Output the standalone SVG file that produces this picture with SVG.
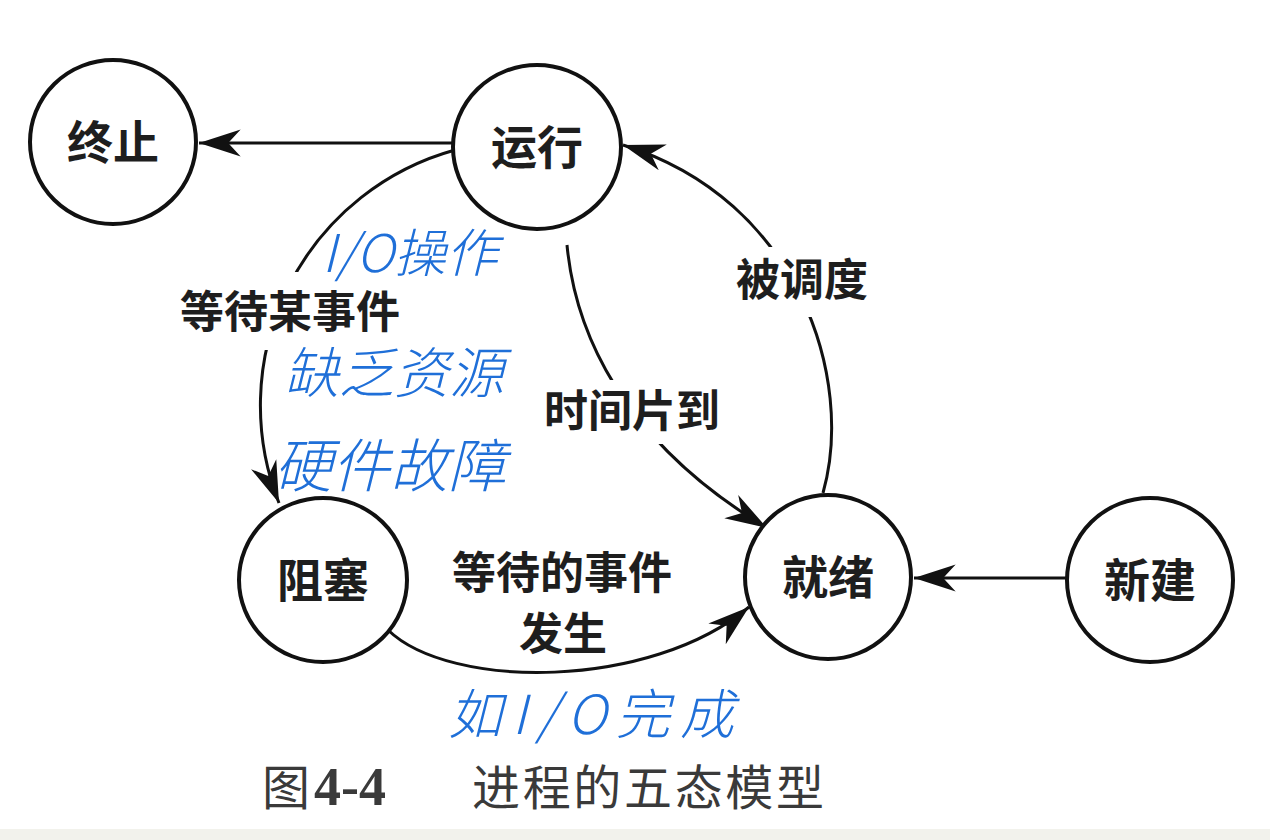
<svg xmlns="http://www.w3.org/2000/svg" width="1270" height="840" viewBox="0 0 1270 840">
  <style>
    .node { fill: #ffffff; stroke: #111111; stroke-width: 4; }
    .lbl { font-family: "Noto Sans CJK SC", "Noto Sans", sans-serif; font-size: 46px; font-weight: 700; fill: #1e1e1e; text-anchor: middle; }
    .elbl { font-family: "Noto Sans CJK SC", "Noto Sans", sans-serif; font-size: 44px; font-weight: 700; fill: #1e1e1e; text-anchor: middle; }
    .edge { fill: none; stroke: #111111; stroke-width: 3; marker-end: url(#arr); }
    .gap { fill: #ffffff; stroke: none; }
    .hand { font-family: "Noto Sans CJK SC", "Noto Sans", sans-serif; font-weight: 300; fill: #1f6fd8; font-style: italic; }
    .cap { font-family: "Noto Sans CJK SC", sans-serif; font-size: 48px; font-weight: 400; fill: #3a3a3a; }
  </style>
  <defs>
    <marker id="arr" markerUnits="userSpaceOnUse" markerWidth="50" markerHeight="40" viewBox="-44 -16 48 32" refX="0" refY="0" orient="auto">
      <path d="M0,0 L-40,-13 L-28,0 L-40,13 Z" fill="#111111"/>
    </marker>
  </defs>
  <rect x="0" y="0" width="1270" height="840" fill="#ffffff"/>
  <rect x="0" y="829" width="1270" height="11" fill="#f2f2ec"/>

  <g id="connectors">
    <path class="edge" d="M 453 143 L 199 143"/>
    <path class="edge" d="M 1066 578 L 914 578"/>
    <path class="edge" d="M 455 150 A 265 265 0 0 0 279 503"/>
    <path class="edge" d="M 567 245 C 575 330, 620 440, 767 528"/>
    <path class="edge" d="M 823 493 C 855 380, 800 200, 623 145"/>
    <path class="edge" d="M 388 630 C 450 690, 650 690, 749 607"/>
  </g>

  <g id="label-wait-event">
    <rect class="gap" x="170" y="272" width="240" height="78"/>
    <text class="elbl" x="290" y="328">等待某事件</text>
  </g>
  <g id="label-timeslice">
    <rect class="gap" x="540" y="380" width="185" height="64"/>
    <text class="elbl" x="632" y="427">时间片到</text>
  </g>
  <g id="label-scheduled">
    <rect class="gap" x="728" y="247" width="148" height="70"/>
    <text class="elbl" x="802" y="296">被调度</text>
  </g>
  <g id="label-event-occurs">
    <text class="elbl" x="562" y="589" font-size="43">等待的事件</text>
    <text class="elbl" x="563" y="650" font-size="43">发生</text>
  </g>

  <g id="node-terminate">
    <ellipse class="node" cx="113" cy="142" rx="83" ry="82"/>
    <text class="lbl" x="113" y="159">终止</text>
  </g>
  <g id="node-running">
    <ellipse class="node" cx="537" cy="147" rx="84" ry="82"/>
    <text class="lbl" x="537" y="164">运行</text>
  </g>
  <g id="node-blocked">
    <ellipse class="node" cx="323" cy="580" rx="84" ry="82"/>
    <text class="lbl" x="323" y="597">阻塞</text>
  </g>
  <g id="node-ready">
    <ellipse class="node" cx="828" cy="577" rx="83" ry="82"/>
    <text class="lbl" x="828" y="594">就绪</text>
  </g>
  <g id="node-new">
    <ellipse class="node" cx="1150" cy="580" rx="83" ry="82"/>
    <text class="lbl" x="1150" y="597">新建</text>
  </g>

  <g id="annotations">
    <text class="hand" x="322" y="272" font-size="52">I/O操作</text>
    <text class="hand" x="284" y="393" font-size="55">缺乏资源</text>
    <text class="hand" x="274" y="487" font-size="58">硬件故障</text>
    <text class="hand" x="448" y="734" font-size="54" textLength="286">如I/O完成</text>
  </g>

  <g id="caption">
    <text class="cap" x="262" y="805" font-size="46">图</text>
    <text x="314" y="805" font-family="Liberation Serif, serif" font-size="54" font-weight="700" fill="#3a3a3a">4-4</text>
    <text class="cap" x="472" y="805" textLength="352">进程的五态模型</text>
  </g>
</svg>
